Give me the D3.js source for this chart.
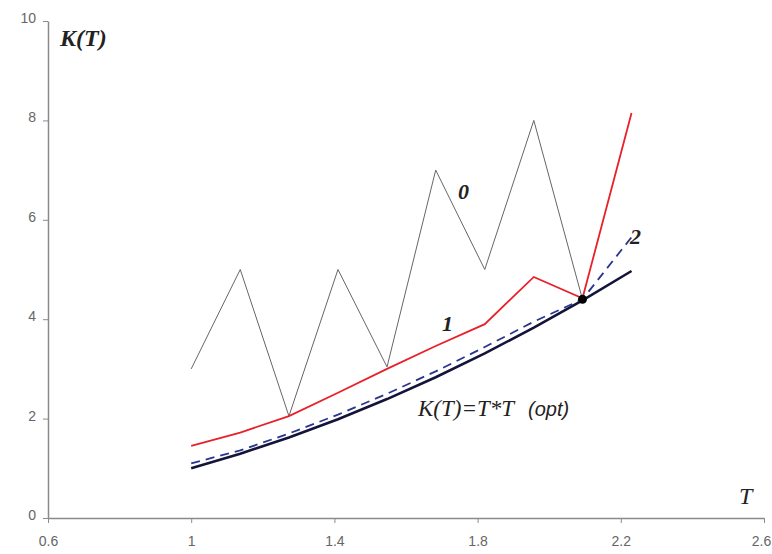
<!DOCTYPE html>
<html><head><meta charset="utf-8">
<script src="https://cdn.jsdelivr.net/npm/d3@7"></script>
<style>body{margin:0;background:#fff}svg{display:block}</style>
</head><body><svg id="c" width="772" height="554"></svg>
<script>
const T = [1, 1.137, 1.273, 1.41, 1.547, 1.683, 1.82, 1.957, 2.093, 2.23];
const series0 = [3.0, 5.0, 2.05, 5.0, 3.04, 7.0, 5.0, 8.0, 4.4];
const series1 = [1.45, 1.72, 2.05, 2.52, 3.0, 3.46, 3.9, 4.85, 4.42, 8.15];
const series2 = [1.1, 1.36, 1.7, 2.08, 2.5, 2.95, 3.44, 3.95, 4.4, 5.65];
const seriesOpt = [1.0, 1.293, 1.62, 1.988, 2.393, 2.833, 3.312, 3.83, 4.38, 4.97];
const optPoint = [2.093, 4.4];
const xTicks = [0.6, 1, 1.4, 1.8, 2.2, 2.6];
const yTicks = [0, 2, 4, 6, 8, 10];

const svg = d3.select("#c");
const x = d3.scaleLinear().domain([0.6, 2.6]).range([48, 764]);
const y = d3.scaleLinear().domain([0, 10]).range([518, 21]);

const xa = svg.append("g").attr("transform", "translate(0,518)")
  .call(d3.axisBottom(x).tickValues(xTicks).tickSize(5).tickSizeOuter(0).tickFormat(d3.format("")));
const ya = svg.append("g").attr("transform", "translate(48,0)")
  .call(d3.axisLeft(y).tickValues(yTicks).tickSize(5).tickSizeOuter(0));
[xa, ya].forEach(a => {
  a.select(".domain").attr("stroke", "#8a8a8a").attr("stroke-width", 1.5);
  a.selectAll(".tick line").attr("stroke", "#8a8a8a");
  a.selectAll(".tick text").attr("fill", "#666").attr("font-family", "Liberation Sans, Arial, sans-serif").attr("font-size", 14);
});
xa.selectAll(".tick text").attr("dy", "1.4em");
xa.selectAll(".tick text").filter(d => d === 2.6).attr("dx", -3);
ya.selectAll(".tick text").attr("x", -12).attr("dy", "0.1em");

const line = d3.line().x(d => x(d[0])).y(d => y(d[1]));
const pts = s => s.map((v, i) => [T[i], v]);

svg.append("path").attr("d", line(pts(seriesOpt))).attr("fill", "none")
  .attr("stroke", "#14143a").attr("stroke-width", 2.6);
svg.append("path").attr("d", line(pts(series2))).attr("fill", "none")
  .attr("stroke", "#2a3590").attr("stroke-width", 1.8).attr("stroke-dasharray", "9,6");
svg.append("path").attr("d", line(pts(series0))).attr("fill", "none")
  .attr("stroke", "#666").attr("stroke-width", 1);
svg.append("path").attr("d", line(pts(series1))).attr("fill", "none")
  .attr("stroke", "#e8202a").attr("stroke-width", 1.8);
svg.append("circle").attr("cx", x(optPoint[0])).attr("cy", y(optPoint[1])).attr("r", 4.5).attr("fill", "#000");

const serif = "Liberation Serif, Times New Roman, serif";
function lab(t, px, py, size, bold, fam) {
  svg.append("text").attr("x", px).attr("y", py).text(t)
    .attr("font-family", fam || serif).attr("font-style", "italic")
    .attr("font-weight", bold ? "bold" : "normal").attr("font-size", size).attr("fill", "#222");
}
lab("K(T)", 60, 46, 24, true);
lab("T", 739, 504, 24, false);
lab("0", 458, 199, 22, true);
lab("1", 442, 331, 22, true);
lab("2", 630, 244, 22, true);
const t = svg.append("text").attr("x", 418).attr("y", 416).attr("font-style", "italic").attr("font-size", 23).attr("fill", "#222");
t.append("tspan").attr("font-family", serif).text("K(T)=T*T");
t.append("tspan").attr("font-family", "Liberation Sans, Arial, sans-serif").attr("font-size", 20).attr("dx", 14).text("(opt)");
</script></body></html>
